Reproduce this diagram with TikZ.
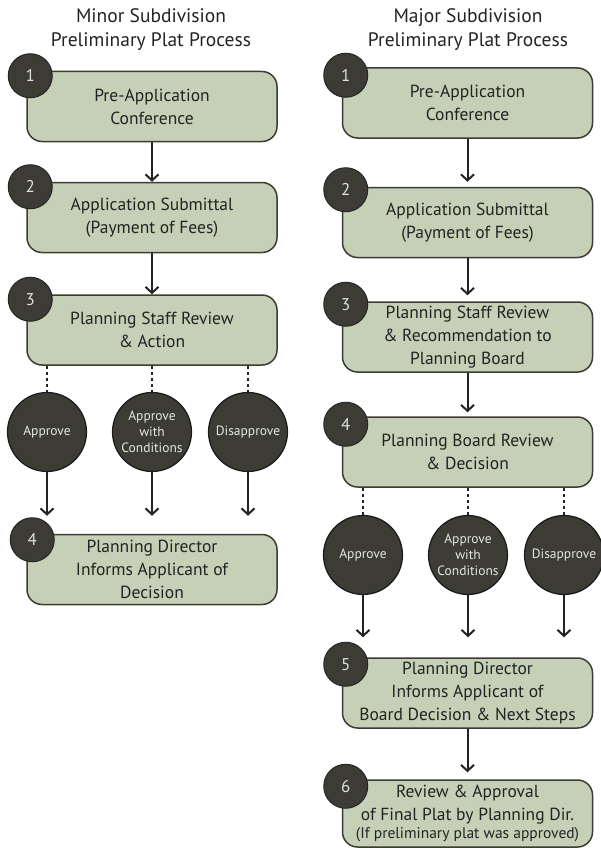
\documentclass[tikz,border=0pt]{standalone}
\usepackage{fontspec}
\setmainfont{PT Sans}
\usetikzlibrary{arrows.meta}
\definecolor{sage}{RGB}{197,208,182}
\definecolor{darkolive}{RGB}{60,60,52}
\definecolor{inkgrey}{RGB}{35,35,35}
\begin{document}
\begin{tikzpicture}[x=1pt,y=-1pt,
	stepbox/.style={draw=darkolive,line width=1.5pt,fill=sage,rounded corners=15pt,minimum width=250pt,minimum height=70pt,inner sep=0pt,align=center,text=inkgrey,font=\fontsize{17.5}{23}\selectfont},
	badge/.style={circle,fill=darkolive,draw=black!85,line width=1pt,minimum size=44pt,inner sep=0pt,text=white!88!black,font=\fontsize{17}{18}\selectfont},
	choice/.style={circle,fill=darkolive,draw=black!90,line width=1.2pt,minimum size=79pt,inner sep=0pt,align=center,text=white!90!black,font=\fontsize{13.5}{16}\selectfont},
	flow/.style={-{Straight Barb[length=6pt,width=13pt]},line width=2pt,draw=inkgrey},
	link/.style={line width=2pt,draw=inkgrey,dash pattern=on 3pt off 3pt},
	title/.style={align=center,text=inkgrey,font=\fontsize{19.5}{24}\selectfont}]
	\useasboundingbox (0,0) rectangle (600,848);
	%\draw [help lines,step=50] (0,0) grid (600,848);
	
	% minor subdivision
	\node[title] (ltitle) at (151,30) {Minor Subdivision\\Preliminary Plat Process};
	\node[stepbox] (l1) at (152,106.5) {Pre-Application\\Conference};
	\node[stepbox] (l2) at (152,217.5) {Application Submittal\\(Payment of Fees)};
	\node[stepbox] (l3) at (152,330) {Planning Staff Review\\\& Action};
	\node[choice] (la) at (47,432) {Approve};
	\node[choice] (lc) at (152,432) {Approve\\with\\Conditions};
	\node[choice] (ld) at (248,432) {Disapprove};
	\node[stepbox] (l4) at (152,569.5) {Planning Director\\Informs Applicant of\\Decision};
	\node[badge] (lb1) at ([xshift=4pt,yshift=-5pt]l1.north west) {1};
	\node[badge] (lb2) at ([xshift=4pt,yshift=-5pt]l2.north west) {2};
	\node[badge] (lb3) at ([xshift=4pt,yshift=-5pt]l3.north west) {3};
	\node[badge] (lb4) at ([xshift=6pt,yshift=-6pt]l4.north west) {4};
	\draw[flow] (l1) -- (l2);
	\draw[flow] (l2) -- (l3);
	\draw[link] (la |- l3.south) -- (la);
	\draw[link] (lc |- l3.south) -- (lc);
	\draw[link] (ld |- l3.south) -- (ld);
	\draw[flow,shorten >=18pt] (la) -- (la |- l4.north);
	\draw[flow,shorten >=18pt] (lc) -- (lc |- l4.north);
	\draw[flow,shorten >=18pt] (ld) -- (ld |- l4.north);
	
	% major subdivision
	\node[title] (rtitle) at (468,30) {Major Subdivision\\Preliminary Plat Process};
	\node[stepbox] (r1) at (467.5,103) {Pre-Application\\Conference};
	\node[stepbox] (r2) at (467.5,222.5) {Application Submittal\\(Payment of Fees)};
	\node[stepbox] (r3) at (467.5,337) {Planning Staff Review\\\& Recommendation to\\Planning Board};
	\node[stepbox] (r4) at (467.5,452) {Planning Board Review\\\& Decision};
	\node[choice] (ra) at (363,555) {Approve};
	\node[choice] (rc) at (468,555) {Approve\\with\\Conditions};
	\node[choice] (rd) at (564,555) {Disapprove};
	\node[stepbox] (r5) at (467.5,693) {Planning Director\\Informs Applicant of\\Board Decision \& Next Steps};
	\node[stepbox,minimum height=67pt] (r6) at (467.5,813.5) {Review \& Approval\\of Final Plat by Planning Dir.\\[-5pt]\fontsize{15.5}{17}\selectfont(If preliminary plat was approved)};
	\node[badge] (rb1) at ([xshift=4pt,yshift=-8pt]r1.north west) {1};
	\node[badge] (rb2) at ([xshift=4pt,yshift=-3pt]r2.north west) {2};
	\node[badge] (rb3) at ([xshift=4pt,yshift=-3pt]r3.north west) {3};
	\node[badge] (rb4) at ([xshift=4pt,yshift=-8pt]r4.north west) {4};
	\node[badge] (rb5) at ([xshift=4pt,yshift=-7pt]r5.north west) {5};
	\node[badge] (rb6) at ([xshift=4pt,yshift=-7pt]r6.north west) {6};
	\draw[flow,shorten >=5pt] (r1) -- (r2);
	\draw[flow,shorten >=6pt] (r2) -- (r3);
	\draw[flow,shorten >=4pt] (r3) -- (r4);
	\draw[link] (ra |- r4.south) -- (ra);
	\draw[link] (rc |- r4.south) -- (rc);
	\draw[link] (rd |- r4.south) -- (rd);
	\draw[flow,shorten >=20pt] (ra) -- (ra |- r5.north);
	\draw[flow,shorten >=20pt] (rc) -- (rc |- r5.north);
	\draw[flow,shorten >=20pt] (rd) -- (rd |- r5.north);
	\draw[flow,shorten >=7pt] (r5) -- (r6);
\end{tikzpicture}
\end{document}
